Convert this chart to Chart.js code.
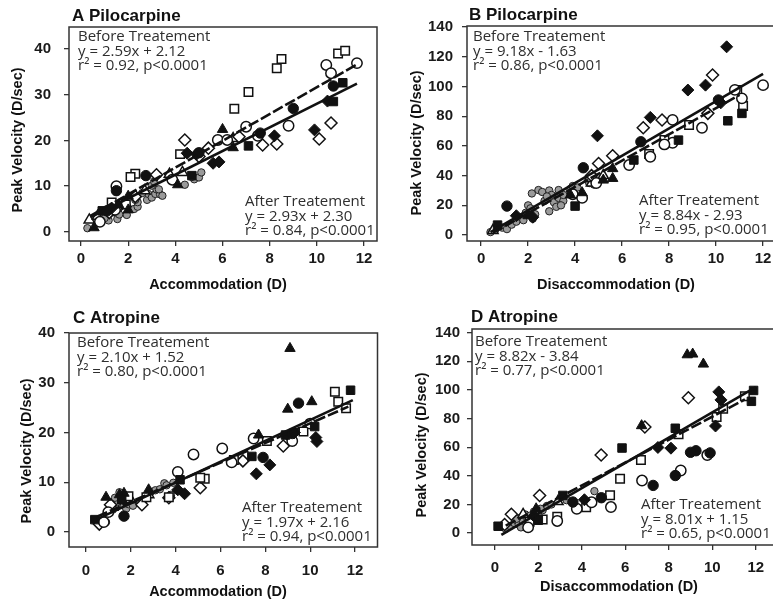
<!DOCTYPE html>
<html><head><meta charset="utf-8">
<script src="https://cdn.jsdelivr.net/npm/chart.js@4.4.1/dist/chart.umd.min.js"></script>
<style>
html,body{margin:0;padding:0;overflow:hidden;background:#fff;width:773px;height:601px;position:relative}
canvas{position:absolute}
</style></head><body>
<canvas id="cA" width="385" height="300" style="left:0;top:0"></canvas>
<canvas id="cB" width="400" height="300" style="left:385px;top:0"></canvas>
<canvas id="cC" width="385" height="301" style="left:0;top:300px"></canvas>
<canvas id="cD" width="400" height="301" style="left:385px;top:300px"></canvas>
<script>
// ---------- tick labels ----------
const xTicks = [0, 2, 4, 6, 8, 10, 12];
const yTicksAC = [0, 10, 20, 30, 40];
const yTicksBD = [0, 20, 40, 60, 80, 100, 120, 140];

// ---------- texts ----------
const titles = ["A Pilocarpine", "B Pilocarpine", "C Atropine", "D Atropine"];
const xTitles = ["Accommodation (D)", "Disaccommodation (D)", "Accommodation (D)", "Disaccommodation (D)"];
const yTitle = "Peak Velocity (D/sec)";
const A_beforeText = ["Before Treatement", "y = 2.59x + 2.12", "r\u00B2 = 0.92, p<0.0001"];
const A_afterText  = ["After Treatement", "y = 2.93x + 2.30", "r\u00B2 = 0.84, p<0.0001"];
const B_beforeText = ["Before Treatement", "y = 9.18x - 1.63", "r\u00B2 = 0.86, p<0.0001"];
const B_afterText  = ["After Treatement", "y = 8.84x - 2.93", "r\u00B2 = 0.95, p<0.0001"];
const C_beforeText = ["Before Treatement", "y = 2.10x + 1.52", "r\u00B2 = 0.80, p<0.0001"];
const C_afterText  = ["After Treatement", "y = 1.97x + 2.16", "r\u00B2 = 0.94, p<0.0001"];
const D_beforeText = ["Before Treatement", "y = 8.82x - 3.84", "r\u00B2 = 0.77, p<0.0001"];
const D_afterText  = ["After Treatement", "y = 8.01x + 1.15", "r\u00B2 = 0.65, p<0.0001"];

// ---------- regression line end points ----------
const A_lineBefore = [[0.4, 3.2], [11.7, 32.4]];
const A_lineAfter  = [[0.4, 3.5], [11.7, 36.6]];
const B_lineBefore = [[0.4, 2.0], [12.0, 108.5]];
const B_lineAfter  = [[0.5, 1.5], [11.0, 94.3]];
const C_lineBefore = [[0.5, 2.6], [11.9, 26.5]];
const C_lineAfter  = [[0.5, 3.1], [11.7, 25.2]];
const D_lineBefore = [[0.3, -1.2], [12.0, 102.0]];
const D_lineAfter  = [[0.5, 5.2], [11.5, 93.3]];

// ---------- Panel A points ----------
const A_openCircle = [[1.5,10.0],[0.8,2.2],[1.44,4.8],[3.87,11.4],[5.8,20.1],[6.2,20.1],[7.0,23.0],[7.5,21.0],[8.8,23.2],[10.4,36.5],[10.6,34.7],[11.7,36.9]];
const A_filledCircle = [[1.5,9.0],[2.75,12.3],[5.0,17.3],[7.6,21.6],[9.0,27.0],[10.7,31.9],[1.1,4.6]];
const A_openSquare = [[8.3,35.8],[8.5,37.8],[10.9,39.0],[11.2,39.6],[7.1,30.6],[6.5,26.9],[4.2,17.0],[2.3,12.7],[2.1,12.0],[1.3,6.4],[1.9,6.0]];
const A_filledSquare = [[11.1,32.6],[10.7,28.5],[7.1,18.8],[4.7,12.3],[0.9,4.6]];
const A_openDiamond = [[10.6,23.8],[10.1,20.3],[8.3,19.2],[7.7,19.0],[6.7,20.8],[5.4,18.3],[4.4,20.1],[3.2,12.5],[2.3,7.7],[1.2,4.2],[5.0,16.5],[1.7,6.0]];
const A_filledDiamond = [[8.2,21.0],[9.9,22.3],[5.6,15.0],[5.85,15.3],[4.5,17.2],[10.45,28.6],[1.3,5.2],[4.9,17.0]];
const A_openTriangle = [[0.35,2.6],[3.75,12.6],[4.3,13.0],[1.9,6.2],[6.45,20.4],[0.7,3.4],[2.7,9.0]];
const A_filledTriangle = [[6.0,22.4],[6.45,18.4],[4.1,10.3],[2.0,4.8],[2.0,7.8],[0.55,0.9],[1.6,5.9]];
const A_gray = [[0.27,0.8],[0.8,2.4],[1.17,2.5],[1.54,2.8],[1.62,3.8],[1.37,4.3],[1.94,3.7],[2.25,5.0],[2.4,5.5],[2.4,6.5],[2.3,7.0],[2.8,7.0],[2.85,8.3],[3.0,7.5],[3.15,8.3],[3.35,8.2],[3.2,9.3],[3.0,10.1],[3.3,9.3],[3.45,7.9],[2.6,8.5],[1.0,3.0],[4.4,10.3],[4.8,11.5],[5.0,11.9],[5.1,13.0],[4.7,12.0],[3.1,11.0]];

// ---------- Panel B points ----------
const B_openCircle = [[12.0,100.9],[11.1,92.0],[10.8,97.7],[9.4,72.2],[8.15,62.1],[7.8,61.0],[8.15,77.5],[7.2,52.7],[6.3,47.1],[4.9,35],[3.9,27.5],[4.3,25]];
const B_filledCircle = [[1.1,19.5],[4.35,45.3],[6.8,62.8],[10.1,90.9]];
const B_openSquare = [[10.9,97.6],[11.15,86.8],[8.85,74.0],[7.8,63.9],[7.15,54.5]];
const B_filledSquare = [[11.1,81.9],[10.5,76.9],[8.4,63.9],[4.0,19.5],[0.7,6.7],[6.5,50.5]];
const B_openDiamond = [[9.85,107.7],[9.65,81.9],[7.7,77.4],[6.9,72.2],[5.6,53.4],[5.0,48.2],[4.7,40]];
const B_filledDiamond = [[10.45,126.7],[9.55,100.9],[8.8,97.6],[7.2,79.2],[4.95,66.8],[10.2,89],[2.2,12],[1.5,13]];
const B_openTriangle = [[4.7,35],[5.2,40],[4.6,38],[0.5,3]];
const B_filledTriangle = [[5.6,38.1],[5.2,37],[5.6,44.7],[4.3,28.5],[2.0,13],[3.8,27]];
const B_gray = [[0.4,2],[0.6,3.5],[0.9,5],[1.1,4],[1.3,7],[1.5,9],[1.7,12],[1.9,15],[2.0,20],[2.1,18],[2.3,14],[2.16,28],[2.44,30.3],[2.6,29],[2.7,23],[2.9,30],[2.9,16],[3.0,27],[3.1,22],[3.2,19],[3.3,30.3],[3.3,25],[3.5,23],[3.5,27],[3.8,31],[3.9,33],[4.1,32],[4.35,25.8],[4.6,35],[4.8,34],[4.9,36],[1.8,10],[2.2,11],[3.4,20],[2.8,26]];

// ---------- Panel C points ----------
const C_openCircle = [[4.8,15.6],[6.08,16.8],[4.1,12.1],[7.48,18.8],[9.2,18.3],[10.0,21.8],[6.5,14.0],[1.0,4.0],[0.8,2.0]];
const C_filledCircle = [[9.48,25.9],[7.9,15.0],[1.7,3.2],[9.2,19.8]];
const C_openSquare = [[11.1,28.2],[11.25,26.2],[11.6,24.9],[8.07,18.3],[9.7,20.2],[5.3,10.7],[5.1,10.9],[1.9,7.2],[2.7,7.0],[6.6,14.5],[3.7,7.0]];
const C_filledSquare = [[11.8,28.5],[10.2,21.2],[7.4,15.2],[4.2,10.5],[0.4,2.5],[8.9,19.5],[1.6,6.5]];
const C_openDiamond = [[8.8,17.3],[7.0,14.3],[5.1,8.9],[3.7,6.9],[2.5,5.5],[0.6,1.6],[1.1,5.5],[9.1,19.2]];
const C_filledDiamond = [[10.3,18.2],[10.25,19.0],[8.2,13.5],[7.6,11.7],[4.4,7.7],[4.1,8.5],[9.3,20.0]];
const C_openTriangle = [[2.8,7.5],[1.2,5.0],[2.0,6.5]];
const C_filledTriangle = [[9.1,36.9],[9.0,24.7],[10.07,26.2],[7.7,19.5],[0.9,7.0],[1.7,7.8],[2.8,8.5],[1.5,7.5]];
const C_gray = [[0.7,1.8],[0.9,2.0],[1.2,4.5],[1.4,6.0],[1.5,8.0],[1.5,7.0],[1.6,6.8],[1.7,5.4],[1.8,4.7],[1.9,5.6],[2.0,6.2],[2.2,5.8],[2.4,5.9],[2.6,6.5],[2.9,8.1],[3.1,8.4],[3.3,8.6],[3.5,9.8],[3.6,9.4],[3.9,9.9],[1.3,6.9],[2.1,5.3],[3.8,7.5]];

// ---------- Panel D points ----------
const D_openCircle = [[9.77,54.5],[8.55,43.7],[6.77,36.7],[5.34,18.2],[3.77,17],[4.45,21.5],[2.87,8.5],[1.53,4]];
const D_filledCircle = [[9.25,57.5],[9.0,56.4],[9.9,56],[8.3,40.2],[7.28,33.3],[4.9,24.7],[3.59,21.7]];
const D_openSquare = [[11.5,95.6],[10.5,86.8],[10.2,81],[8.45,69],[6.72,51],[5.76,38],[5.3,26.5],[4.2,18],[2.87,11.5],[2.2,9.5],[1.6,8]];
const D_filledSquare = [[11.9,99.6],[11.8,92],[8.3,73.2],[5.85,59.4],[3.13,26.3],[0.15,4.8],[2.0,9]];
const D_openDiamond = [[8.9,94.5],[6.9,74.1],[4.89,54.5],[2.06,26.3],[0.76,13.2],[0.45,6]];
const D_filledDiamond = [[10.3,98.6],[10.4,93],[10.15,74.8],[8.1,59.3],[7.5,59.8],[4.12,23.3],[1.8,12]];
const D_openTriangle = [[2.9,22],[1.3,13]];
const D_filledTriangle = [[8.85,124.5],[9.1,125],[9.59,118],[6.75,75],[1.9,17]];
const D_gray = [[0.5,3],[0.7,5],[0.9,7],[1.0,9],[1.1,6],[1.2,11],[1.3,8],[1.4,13],[1.5,10],[1.6,12],[1.7,9],[1.8,15],[1.9,11],[2.0,13],[2.2,16],[2.4,19],[2.6,20],[3.3,23],[4.58,29.3],[1.0,10],[1.4,6],[2.1,17],[1.2,4]];

// ---------- marker styles ----------
const MARK = {
  openCircle:     {pointStyle:'circle',   pointRadius:5.2, pointBackgroundColor:'#fff', pointBorderColor:'#111', pointBorderWidth:1.5},
  filledCircle:   {pointStyle:'circle',   pointRadius:5.2, pointBackgroundColor:'#111', pointBorderColor:'#111', pointBorderWidth:1},
  openSquare:     {pointStyle:'rect',     pointRadius:6,   pointBackgroundColor:'#fff', pointBorderColor:'#111', pointBorderWidth:1.5},
  filledSquare:   {pointStyle:'rect',     pointRadius:6,   pointBackgroundColor:'#111', pointBorderColor:'#111', pointBorderWidth:1},
  openDiamond:    {pointStyle:'rectRot',  pointRadius:6,   pointBackgroundColor:'#fff', pointBorderColor:'#111', pointBorderWidth:1.5},
  filledDiamond:  {pointStyle:'rectRot',  pointRadius:6,   pointBackgroundColor:'#111', pointBorderColor:'#111', pointBorderWidth:1},
  openTriangle:   {pointStyle:'triangle', pointRadius:6,   pointBackgroundColor:'#fff', pointBorderColor:'#111', pointBorderWidth:1.5},
  filledTriangle: {pointStyle:'triangle', pointRadius:6,   pointBackgroundColor:'#111', pointBorderColor:'#111', pointBorderWidth:1},
  gray:           {pointStyle:'circle',   pointRadius:3.7, pointBackgroundColor:'#9a9a9a', pointBorderColor:'#222', pointBorderWidth:1}
};

const toXY = arr => arr.map(p => ({x: p[0], y: p[1]}));

function pointSet(label, arr, kind) {
  return Object.assign({type:'scatter', label, data: toXY(arr), showLine:false}, MARK[kind]);
}
function lineSet(label, arr, dashed) {
  return {type:'line', label, data: toXY(arr), showLine:true, pointRadius:0, borderColor:'#111',
          borderWidth:2.6, borderDash: dashed ? [11, 3] : [], fill:false, tension:0};
}

const deco = {
  id: 'deco',
  afterDraw(chart, args, o) {
    const ctx = chart.ctx, a = chart.chartArea;
    ctx.save();
    ctx.strokeStyle = '#333'; ctx.lineWidth = 1.5;
    ctx.strokeRect(a.left, a.top, a.right - a.left, a.bottom - a.top);
    ctx.fillStyle = '#111';
    ctx.textAlign = 'left'; ctx.textBaseline = 'alphabetic';
    ctx.font = 'bold 17px "Liberation Sans", Arial, sans-serif';
    ctx.fillText(o.title, o.titlePos[0], o.titlePos[1]);
    ctx.font = 'bold 14.5px "Liberation Sans", Arial, sans-serif';
    ctx.textAlign = 'center'; ctx.textBaseline = 'middle';
    ctx.fillText(o.xTitle, o.xTitlePos[0], o.xTitlePos[1]);
    ctx.save();
    ctx.translate(o.yTitlePos[0], o.yTitlePos[1]); ctx.rotate(-Math.PI / 2);
    ctx.fillText(o.yTitle, 0, 0);
    ctx.restore();
    ctx.fillStyle = '#2e2e2e';
    ctx.font = '15px "Open Sans", sans-serif';
    ctx.textAlign = 'left'; ctx.textBaseline = 'alphabetic';
    o.before.forEach((t, i) => ctx.fillText(t, o.beforePos[0], o.beforePos[1] + i * 14.5));
    o.after.forEach((t, i) => ctx.fillText(t, o.afterPos[0], o.afterPos[1] + i * 14.5));
    ctx.restore();
  }
};

function makePanel(id, p) {
  const datasets = [
    lineSet('Before (fit)', p.lineBefore, false),
    lineSet('After (fit)', p.lineAfter, true),
    pointSet('filled circle', p.pts.filledCircle, 'filledCircle'),
    pointSet('filled square', p.pts.filledSquare, 'filledSquare'),
    pointSet('filled diamond', p.pts.filledDiamond, 'filledDiamond'),
    pointSet('filled triangle', p.pts.filledTriangle, 'filledTriangle'),
    pointSet('open circle', p.pts.openCircle, 'openCircle'),
    pointSet('open square', p.pts.openSquare, 'openSquare'),
    pointSet('open diamond', p.pts.openDiamond, 'openDiamond'),
    pointSet('open triangle', p.pts.openTriangle, 'openTriangle'),
    pointSet('gray circle', p.pts.gray, 'gray')
  ];
  const tickFont = {family:'"Liberation Sans", Arial, sans-serif', size:15, weight:'bold'};
  new Chart(document.getElementById(id), {
    type: 'scatter',
    data: {datasets},
    options: {
      responsive: false, animation: false, devicePixelRatio: 1,
      layout: {padding: {top: p.area.top, right: p.area.right, left: 0, bottom: 0}},
      plugins: {legend: {display:false}, tooltip: {enabled:false}, deco: p.deco},
      scales: {
        x: {
          type: 'linear', min: p.x[0], max: p.x[1],
          afterBuildTicks: s => { s.ticks = xTicks.map(v => ({value: v})); },
          afterFit: s => { s.height = p.area.xh; },
          grid: {drawOnChartArea:false, drawTicks:true, tickLength:5, color:'#333', lineWidth:1.3},
          border: {display:false},
          ticks: {font: tickFont, color:'#1a1a1a', padding: p.xPad, maxRotation:0, autoSkip:false}
        },
        y: {
          type: 'linear', min: p.y[0], max: p.y[1],
          afterBuildTicks: s => { s.ticks = p.yTicks.map(v => ({value: v})); },
          afterFit: s => { s.width = p.area.yw; },
          grid: {drawOnChartArea:false, drawTicks:true, tickLength:5, color:'#333', lineWidth:1.3},
          border: {display:false},
          ticks: {font: tickFont, color:'#1a1a1a', padding: p.yPad, autoSkip:false}
        }
      }
    },
    plugins: [deco]
  });
}

makePanel('cA', {
  x: [-0.51, 12.55], y: [-2.0, 44.8], yTicks: yTicksAC,
  area: {top: 27, right: 8, yw: 69, xh: 59}, xPad: 4, yPad: 13,
  lineBefore: A_lineBefore, lineAfter: A_lineAfter,
  pts: {openCircle:A_openCircle, filledCircle:A_filledCircle, openSquare:A_openSquare, filledSquare:A_filledSquare,
        openDiamond:A_openDiamond, filledDiamond:A_filledDiamond, openTriangle:A_openTriangle, filledTriangle:A_filledTriangle, gray:A_gray},
  deco: {title: titles[0], titlePos:[72, 21], xTitle: xTitles[0], xTitlePos:[218, 285], yTitle, yTitlePos:[18, 140],
         before: A_beforeText, beforePos:[78, 41], after: A_afterText, afterPos:[245, 206]}
});
makePanel('cB', {
  x: [-0.6, 12.55], y: [-4.0, 140.7], yTicks: yTicksBD,
  area: {top: 26, right: 9, yw: 82, xh: 59}, xPad: 4, yPad: 9,
  lineBefore: B_lineBefore, lineAfter: B_lineAfter,
  pts: {openCircle:B_openCircle, filledCircle:B_filledCircle, openSquare:B_openSquare, filledSquare:B_filledSquare,
        openDiamond:B_openDiamond, filledDiamond:B_filledDiamond, openTriangle:B_openTriangle, filledTriangle:B_filledTriangle, gray:B_gray},
  deco: {title: titles[1], titlePos:[84, 20], xTitle: xTitles[1], xTitlePos:[231, 285], yTitle, yTitlePos:[32, 143],
         before: B_beforeText, beforePos:[88, 41], after: B_afterText, afterPos:[254, 205]}
});
makePanel('cC', {
  x: [-0.75, 13.0], y: [-3.0, 40.0], yTicks: yTicksAC,
  area: {top: 33, right: 5, yw: 69, xh: 54}, xPad: 10, yPad: 9,
  lineBefore: C_lineBefore, lineAfter: C_lineAfter,
  pts: {openCircle:C_openCircle, filledCircle:C_filledCircle, openSquare:C_openSquare, filledSquare:C_filledSquare,
        openDiamond:C_openDiamond, filledDiamond:C_filledDiamond, openTriangle:C_openTriangle, filledTriangle:C_filledTriangle, gray:C_gray},
  deco: {title: titles[2], titlePos:[73, 23], xTitle: xTitles[2], xTitlePos:[218, 292], yTitle, yTitlePos:[27, 151],
         before: C_beforeText, beforePos:[77, 47], after: C_afterText, afterPos:[242, 212]}
});
makePanel('cD', {
  x: [-1.05, 13.0], y: [-8.3, 142.5], yTicks: yTicksBD,
  area: {top: 29, right: 6, yw: 87, xh: 56}, xPad: 9, yPad: 7,
  lineBefore: D_lineBefore, lineAfter: D_lineAfter,
  pts: {openCircle:D_openCircle, filledCircle:D_filledCircle, openSquare:D_openSquare, filledSquare:D_filledSquare,
        openDiamond:D_openDiamond, filledDiamond:D_filledDiamond, openTriangle:D_openTriangle, filledTriangle:D_filledTriangle, gray:D_gray},
  deco: {title: titles[3], titlePos:[86, 22], xTitle: xTitles[3], xTitlePos:[234, 287], yTitle, yTitlePos:[37, 145],
         before: D_beforeText, beforePos:[90, 46], after: D_afterText, afterPos:[256, 209]}
});
</script>
</body></html>
